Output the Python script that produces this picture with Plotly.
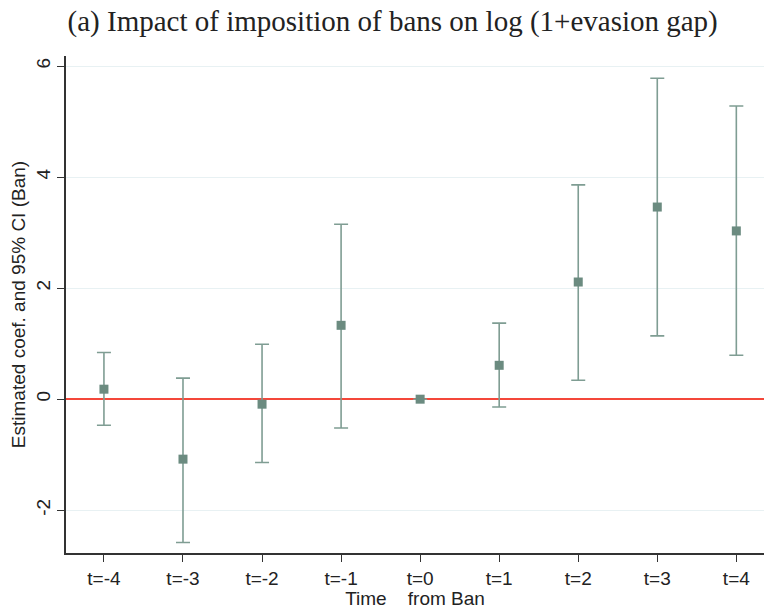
import plotly.graph_objects as go

periods = [-4, -3, -2, -1, 0, 1, 2, 3, 4]
tick_labels = ["t=-4", "t=-3", "t=-2", "t=-1", "t=0", "t=1", "t=2", "t=3", "t=4"]
coef = [0.18, -1.08, -0.09, 1.33, 0.0, 0.61, 2.11, 3.46, 3.03]
ci_upper = [0.84, 0.38, 0.99, 3.15, 0.0, 1.37, 3.86, 5.78, 5.28]
ci_lower = [-0.47, -2.58, -1.14, -0.52, 0.0, -0.14, 0.34, 1.14, 0.79]
y_ticks = [-2, 0, 2, 4, 6]
y_tick_labels = ["-2", "0", "2", "4", "6"]

err_plus = [u - c for u, c in zip(ci_upper, coef)]
err_minus = [c - l for c, l in zip(coef, ci_lower)]

fig = go.Figure()
fig.add_trace(go.Scatter(
    x=periods, y=coef, mode="markers",
    marker=dict(symbol="square", size=9, color="#6b8b80"),
    error_y=dict(type="data", symmetric=False, array=err_plus, arrayminus=err_minus,
                 color="#7f9d93", thickness=1.6, width=7),
    showlegend=False,
))

fig.update_layout(
    width=764, height=609,
    margin=dict(l=66, r=0, t=56, b=56),
    paper_bgcolor="white", plot_bgcolor="white",
    title=dict(text="(a) Impact of imposition of bans on log (1+evasion gap)",
               x=0.514, xanchor="center", y=0.966, yanchor="middle",
               font=dict(family="Liberation Serif", size=29, color="#222")),
    font=dict(family="Liberation Sans", color="#222"),
    xaxis=dict(
        range=[-4.48, 4.35], tickvals=periods, ticktext=tick_labels,
        showgrid=False, zeroline=False,
        showline=True, linecolor="#333", linewidth=1.5,
        ticks="outside", ticklen=7, tickcolor="#333", tickwidth=1.3,
        tickfont=dict(size=19, color="#222"),
        title=dict(text="Time\u00a0\u00a0\u00a0\u00a0from Ban", font=dict(size=19, color="#222"), standoff=0),
    ),
    yaxis=dict(
        range=[-2.77, 6.18], tickvals=y_ticks, ticktext=y_tick_labels, tickangle=-90,
        showgrid=True, gridcolor="#e8f1f3", gridwidth=1.2,
        zeroline=True, zerolinecolor="#f4473a", zerolinewidth=2,
        showline=True, linecolor="#333", linewidth=1.5,
        ticks="outside", ticklen=7, tickcolor="#333", tickwidth=1.3,
        tickfont=dict(size=19, color="#222"),
        title=dict(text="Estimated coef. and 95% CI (Ban)", font=dict(size=19, color="#222"), standoff=2),
    ),
)

fig.write_html("out.html")
